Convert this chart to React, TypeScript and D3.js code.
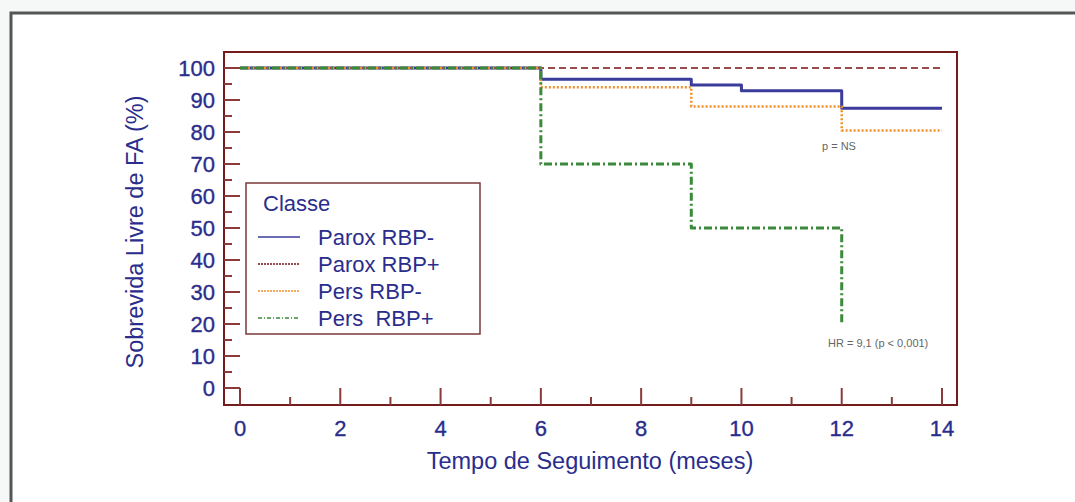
import React, { useEffect, useRef } from "react";
import * as d3 from "d3";

// Kaplan-Meier curves (months, % free of AF)
const paroxNegTimes = [0, 6, 9, 10, 12, 14];
const paroxNegValues = [100, 96.5, 94.7, 92.9, 87.4, 87.4];
const paroxPosTimes = [0, 14];
const paroxPosValues = [100, 100];
const persNegTimes = [0, 6, 9, 12, 14];
const persNegValues = [100, 94, 88, 80.5, 80.5];
const persPosTimes = [0, 6, 9, 12];
const persPosValues = [100, 70, 50, 20];

const seriesNames = ["Parox RBP-", "Parox RBP+", "Pers RBP-", "Pers  RBP+"];
const yTicks = [0, 10, 20, 30, 40, 50, 60, 70, 80, 90, 100];
const xTicks = [0, 2, 4, 6, 8, 10, 12, 14];

const FONT = "'Liberation Sans', Arial, sans-serif";
const NAVY = "#2a2d8c";
const MAROON = "#741c1c";

export default function App() {
  const ref = useRef<SVGSVGElement | null>(null);

  useEffect(() => {
    const svg = d3.select(ref.current);
    svg.selectAll("*").remove();

    const frame = { left: 224, right: 957, top: 52, bottom: 405 };
    const x = d3.scaleLinear().domain([0, 14]).range([240, 942]);
    const y = d3.scaleLinear().domain([0, 100]).range([388, 68]);

    // page background and outer box
    svg.append("rect").attr("width", 1075).attr("height", 502).attr("fill", "#f6f8f8");
    svg
      .append("rect")
      .attr("x", 11)
      .attr("y", 13)
      .attr("width", 1100)
      .attr("height", 520)
      .attr("fill", "#fff")
      .attr("stroke", "#555")
      .attr("stroke-width", 3);

    // plot area
    svg
      .append("rect")
      .attr("x", frame.left)
      .attr("y", frame.top)
      .attr("width", frame.right - frame.left)
      .attr("height", frame.bottom - frame.top)
      .attr("fill", "#fff")
      .attr("stroke", MAROON)
      .attr("stroke-width", 2);

    // y ticks (inward)
    const yMinor = d3.range(5, 101, 10);
    const g = svg.append("g");
    g.selectAll(".ymaj")
      .data(yTicks)
      .enter()
      .append("line")
      .attr("x1", frame.left)
      .attr("x2", frame.left + 16)
      .attr("y1", (d) => y(d))
      .attr("y2", (d) => y(d))
      .attr("stroke", "#8a3a3a")
      .attr("stroke-width", 2);
    g.selectAll(".ymin")
      .data(yMinor)
      .enter()
      .append("line")
      .attr("x1", frame.left)
      .attr("x2", frame.left + 8)
      .attr("y1", (d) => y(d))
      .attr("y2", (d) => y(d))
      .attr("stroke", "#8a3a3a")
      .attr("stroke-width", 2);

    // x ticks (inward)
    const xMinor = d3.range(1, 14, 2);
    g.selectAll(".xmaj")
      .data(xTicks)
      .enter()
      .append("line")
      .attr("x1", (d) => x(d))
      .attr("x2", (d) => x(d))
      .attr("y1", frame.bottom)
      .attr("y2", frame.bottom - 17)
      .attr("stroke", "#8a3a3a")
      .attr("stroke-width", 2);
    g.selectAll(".xmin")
      .data(xMinor)
      .enter()
      .append("line")
      .attr("x1", (d) => x(d))
      .attr("x2", (d) => x(d))
      .attr("y1", frame.bottom)
      .attr("y2", frame.bottom - 8)
      .attr("stroke", "#8a3a3a")
      .attr("stroke-width", 2);

    // tick labels
    svg
      .append("g")
      .selectAll("text")
      .data(yTicks)
      .enter()
      .append("text")
      .attr("x", 215)
      .attr("y", (d) => y(d) + 8)
      .attr("text-anchor", "end")
      .attr("font-family", FONT)
      .attr("font-size", 22)
      .attr("fill", NAVY)
      .attr("stroke", NAVY)
      .attr("stroke-width", 0.35)
      .text((d) => d);
    svg
      .append("g")
      .selectAll("text")
      .data(xTicks)
      .enter()
      .append("text")
      .attr("x", (d) => x(d))
      .attr("y", 436)
      .attr("text-anchor", "middle")
      .attr("font-family", FONT)
      .attr("font-size", 22)
      .attr("fill", NAVY)
      .attr("stroke", NAVY)
      .attr("stroke-width", 0.35)
      .text((d) => d);

    // axis titles
    svg
      .append("text")
      .attr("x", 590)
      .attr("y", 469)
      .attr("text-anchor", "middle")
      .attr("font-family", FONT)
      .attr("font-size", 23.5)
      .attr("fill", NAVY)
      .text("Tempo de Seguimento (meses)");
    svg
      .append("text")
      .attr("transform", "translate(143,232) rotate(-90)")
      .attr("text-anchor", "middle")
      .attr("font-family", FONT)
      .attr("font-size", 23.5)
      .attr("fill", NAVY)
      .text("Sobrevida Livre de FA (%)");

    // curves
    const line = d3
      .line<[number, number]>()
      .x((d) => x(d[0]))
      .y((d) => y(d[1]))
      .curve(d3.curveStepAfter);
    const styles = [
      { color: "#3b3b9c", width: 3, dash: null },
      { color: "#9a4c4c", width: 2, dash: "7,4" },
      { color: "#f0902a", width: 2.5, dash: "2,2" },
      { color: "#3b8a3b", width: 3, dash: "8,3,2,3" },
    ];
    const series: [number[], number[]][] = [
      [paroxNegTimes, paroxNegValues],
      [paroxPosTimes, paroxPosValues],
      [persNegTimes, persNegValues],
      [persPosTimes, persPosValues],
    ];
    series.forEach(([t, v], i) => {
      const pts = t.map((d, j) => [d, v[j]] as [number, number]);
      svg
        .append("path")
        .attr("d", line(pts))
        .attr("fill", "none")
        .attr("stroke", styles[i].color)
        .attr("stroke-width", styles[i].width)
        .attr("stroke-dasharray", styles[i].dash)
        .attr("stroke-linejoin", "round");
    });

    // annotations
    svg
      .append("text")
      .attr("x", 822)
      .attr("y", 150)
      .attr("font-family", FONT)
      .attr("font-size", 11)
      .attr("fill", "#666")
      .text("p = NS");
    svg
      .append("text")
      .attr("x", 828)
      .attr("y", 347)
      .attr("font-family", FONT)
      .attr("font-size", 11)
      .attr("fill", "#666")
      .text("HR = 9,1 (p < 0,001)");

    // legend
    const lg = svg.append("g");
    lg.append("rect")
      .attr("x", 246)
      .attr("y", 183)
      .attr("width", 234)
      .attr("height", 151)
      .attr("fill", "#fff")
      .attr("stroke", "#7a3a3a")
      .attr("stroke-width", 1.5);
    lg.append("text")
      .attr("x", 263)
      .attr("y", 211)
      .attr("font-family", FONT)
      .attr("font-size", 22)
      .attr("fill", NAVY)
      .text("Classe");
    seriesNames.forEach((name, i) => {
      const cy = 237 + i * 27;
      lg.append("line")
        .attr("x1", 258)
        .attr("x2", 300)
        .attr("y1", cy)
        .attr("y2", cy)
        .attr("stroke", styles[i].color)
        .attr("stroke-width", i === 1 ? 2 : 1.5)
        .attr("stroke-dasharray", i === 0 ? null : i === 3 ? "4,2,1,2" : "2,1");
      lg.append("text")
        .attr("x", 318)
        .attr("y", cy + 8)
        .attr("font-family", FONT)
        .attr("font-size", 22)
        .attr("fill", NAVY)
        .style("white-space", "pre")
        .text(name);
    });
  }, []);

  return (
    <svg
      ref={ref}
      width={1075}
      height={502}
      style={{ position: "absolute", left: 0, top: 0 }}
    />
  );
}
